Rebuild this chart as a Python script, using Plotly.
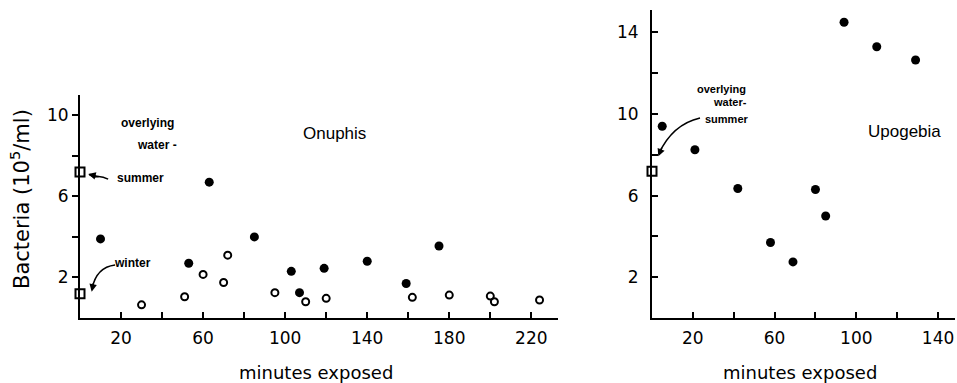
import plotly.graph_objects as go

# ---------------- data ----------------
# Onuphis (left panel)
onu_filled_x = [10, 53, 63, 85, 103, 107, 119, 140, 159, 175]
onu_filled_y = [3.9, 2.7, 6.7, 4.0, 2.3, 1.25, 2.45, 2.8, 1.7, 3.55]
onu_open_x = [30, 51, 60, 70, 72, 95, 110, 120, 162, 180, 200, 202, 224]
onu_open_y = [0.65, 1.05, 2.15, 1.75, 3.1, 1.25, 0.8, 0.97, 1.02, 1.13, 1.08, 0.8, 0.89]
onu_water_x = [0, 0]
onu_water_y = [7.2, 1.2]   # summer, winter

# Upogebia (right panel)
upo_x = [5, 21, 42, 58, 69, 80, 85, 94, 110, 129]
upo_y = [9.4, 8.25, 6.35, 3.7, 2.75, 6.3, 5.0, 14.5, 13.3, 12.65]
upo_water_x = [0]
upo_water_y = [7.2]

left_xticks = [20, 40, 60, 80, 100, 120, 140, 160, 180, 200, 220]
left_xlabels = ["20", "", "60", "", "100", "", "140", "", "180", "", "220"]
right_xticks = [20, 40, 60, 80, 100, 120, 140]
right_xlabels = ["20", "", "60", "", "100", "", "140"]
left_yticks = [2, 4, 6, 8, 10]
left_ylabels = ["2", "", "6", "", "10"]
right_yticks = [2, 4, 6, 8, 10, 12, 14]
right_ylabels = ["2", "", "6", "", "10", "", "14"]

W, H = 957, 383
FONT = "DejaVu Sans"
BLACK = "#000"

fig = go.Figure()

# left panel
fig.add_trace(go.Scatter(x=onu_filled_x, y=onu_filled_y, mode="markers",
                         marker=dict(symbol="circle", size=9, color=BLACK),
                         xaxis="x", yaxis="y", cliponaxis=False))
fig.add_trace(go.Scatter(x=onu_open_x, y=onu_open_y, mode="markers",
                         marker=dict(symbol="circle-open", size=7, color=BLACK, line=dict(width=2)),
                         xaxis="x", yaxis="y", cliponaxis=False))
fig.add_trace(go.Scatter(x=onu_water_x, y=onu_water_y, mode="markers",
                         marker=dict(symbol="square-open", size=9, color=BLACK, line=dict(width=2)),
                         xaxis="x", yaxis="y", cliponaxis=False))
# right panel
fig.add_trace(go.Scatter(x=upo_x, y=upo_y, mode="markers",
                         marker=dict(symbol="circle", size=9, color=BLACK),
                         xaxis="x2", yaxis="y2", cliponaxis=False))
fig.add_trace(go.Scatter(x=upo_water_x, y=upo_water_y, mode="markers",
                         marker=dict(symbol="square-open", size=9, color=BLACK, line=dict(width=2)),
                         xaxis="x2", yaxis="y2", cliponaxis=False))

axis_common = dict(showline=True, linecolor=BLACK, linewidth=2, showgrid=False, zeroline=False,
                   ticklen=6, tickwidth=2, tickcolor=BLACK, automargin=False,
                   tickfont=dict(family=FONT, size=17, color=BLACK), tickmode="array")

y_bot = (H - 318) / H
fig.update_layout(
    width=W, height=H, margin=dict(l=0, r=0, t=0, b=0),
    paper_bgcolor="white", plot_bgcolor="white", showlegend=False,
    xaxis=dict(axis_common, domain=[80 / W, 558 / W], range=[0, 233], anchor="y",
               tickvals=left_xticks, ticktext=left_xlabels, ticks="inside", ticklabelstandoff=4),
    yaxis=dict(axis_common, domain=[y_bot, (H - 95) / H], range=[0, 11], anchor="x",
               tickvals=left_yticks, ticktext=left_ylabels, ticks="outside"),
    xaxis2=dict(axis_common, domain=[652 / W, 955 / W], range=[0, 148.3], anchor="y2",
                tickvals=right_xticks, ticktext=right_xlabels, ticks="inside", ticklabelstandoff=4),
    yaxis2=dict(axis_common, domain=[y_bot, (H - 10) / H], range=[0, 15.1], anchor="x2",
                tickvals=right_yticks, ticktext=right_ylabels, ticks="inside", ticklabelstandoff=8),
)

small = dict(family="Liberation Sans", size=12, color=BLACK)
small_r = dict(family="Liberation Sans", size=11, color=BLACK)
big = dict(family="Liberation Sans", size=17, color=BLACK)
ann = []
# left panel texts
ann.append(dict(x=32.7, y=9.6, xref="x", yref="y", text="<b>overlying</b>", showarrow=False, font=small))
ann.append(dict(x=37.6, y=8.52, xref="x", yref="y", text="<b>water -</b>", showarrow=False, font=small))
ann.append(dict(x=29.5, y=6.9, xref="x", yref="y", text="<b>summer</b>", showarrow=False, font=small))
ann.append(dict(x=25.4, y=2.71, xref="x", yref="y", text="<b>winter</b>", showarrow=False, font=small))
ann.append(dict(x=124, y=9.1, xref="x", yref="y", text="Onuphis", showarrow=False, font=big))
# right panel texts
ann.append(dict(x=34.2, y=11.25, xref="x2", yref="y2", text="<b>overlying</b>", showarrow=False, font=small_r))
ann.append(dict(x=38.2, y=10.57, xref="x2", yref="y2", text="<b>water-</b>", showarrow=False, font=small_r))
ann.append(dict(x=36.7, y=9.75, xref="x2", yref="y2", text="<b>summer</b>", showarrow=False, font=small_r))
ann.append(dict(x=123.8, y=9.14, xref="x2", yref="y2", text="Upogebia", showarrow=False, font=big))
# arrows (heads)
ann.append(dict(x=4.0, y=7.1, xref="x", yref="y", ax=12, ay=3, text="", showarrow=True,
                arrowhead=2, arrowsize=1, arrowwidth=1.5, arrowcolor=BLACK))
ann.append(dict(x=5.7, y=1.3, xref="x", yref="y", ax=2, ay=-10, text="", showarrow=True,
                arrowhead=2, arrowsize=1, arrowwidth=1.5, arrowcolor=BLACK))
ann.append(dict(x=3.1, y=7.93, xref="x2", yref="y2", ax=4, ay=-10, text="", showarrow=True,
                arrowhead=2, arrowsize=1, arrowwidth=1.5, arrowcolor=BLACK))
# axis titles
ann.append(dict(x=20 / W, y=(H - 199) / H, xref="paper", yref="paper", xanchor="center", yanchor="middle",
                text="Bacteria (10<sup>5</sup>/ml)",
                textangle=-90, showarrow=False, font=dict(family=FONT, size=21, color=BLACK)))
ann.append(dict(x=316 / W, y=(H - 372) / H, xref="paper", yref="paper", xanchor="center", yanchor="middle",
                text="minutes exposed", showarrow=False, font=dict(family=FONT, size=18, color=BLACK)))
ann.append(dict(x=800 / W, y=(H - 372) / H, xref="paper", yref="paper", xanchor="center", yanchor="middle",
                text="minutes exposed", showarrow=False, font=dict(family=FONT, size=18, color=BLACK)))
fig.update_layout(annotations=ann)

# curved arrow shafts
shapes = [
    dict(type="path", xref="x", yref="y", path="M 13.7,6.85 Q 10,7.05 7,6.95 L 4.5,7.08",
         line=dict(color=BLACK, width=1.5)),
    dict(type="path", xref="x", yref="y", path="M 17.1,2.61 Q 8,2.5 5.9,1.45",
         line=dict(color=BLACK, width=1.5)),
    dict(type="path", xref="x2", yref="y2", path="M 23.5,9.81 Q 10,9.5 3.3,8.05",
         line=dict(color=BLACK, width=1.5)),
]
fig.update_layout(shapes=shapes)

fig.write_html("out.html", config={"displayModeBar": False},
               post_script="document.body.style.margin='0';document.body.style.overflow='hidden';")
